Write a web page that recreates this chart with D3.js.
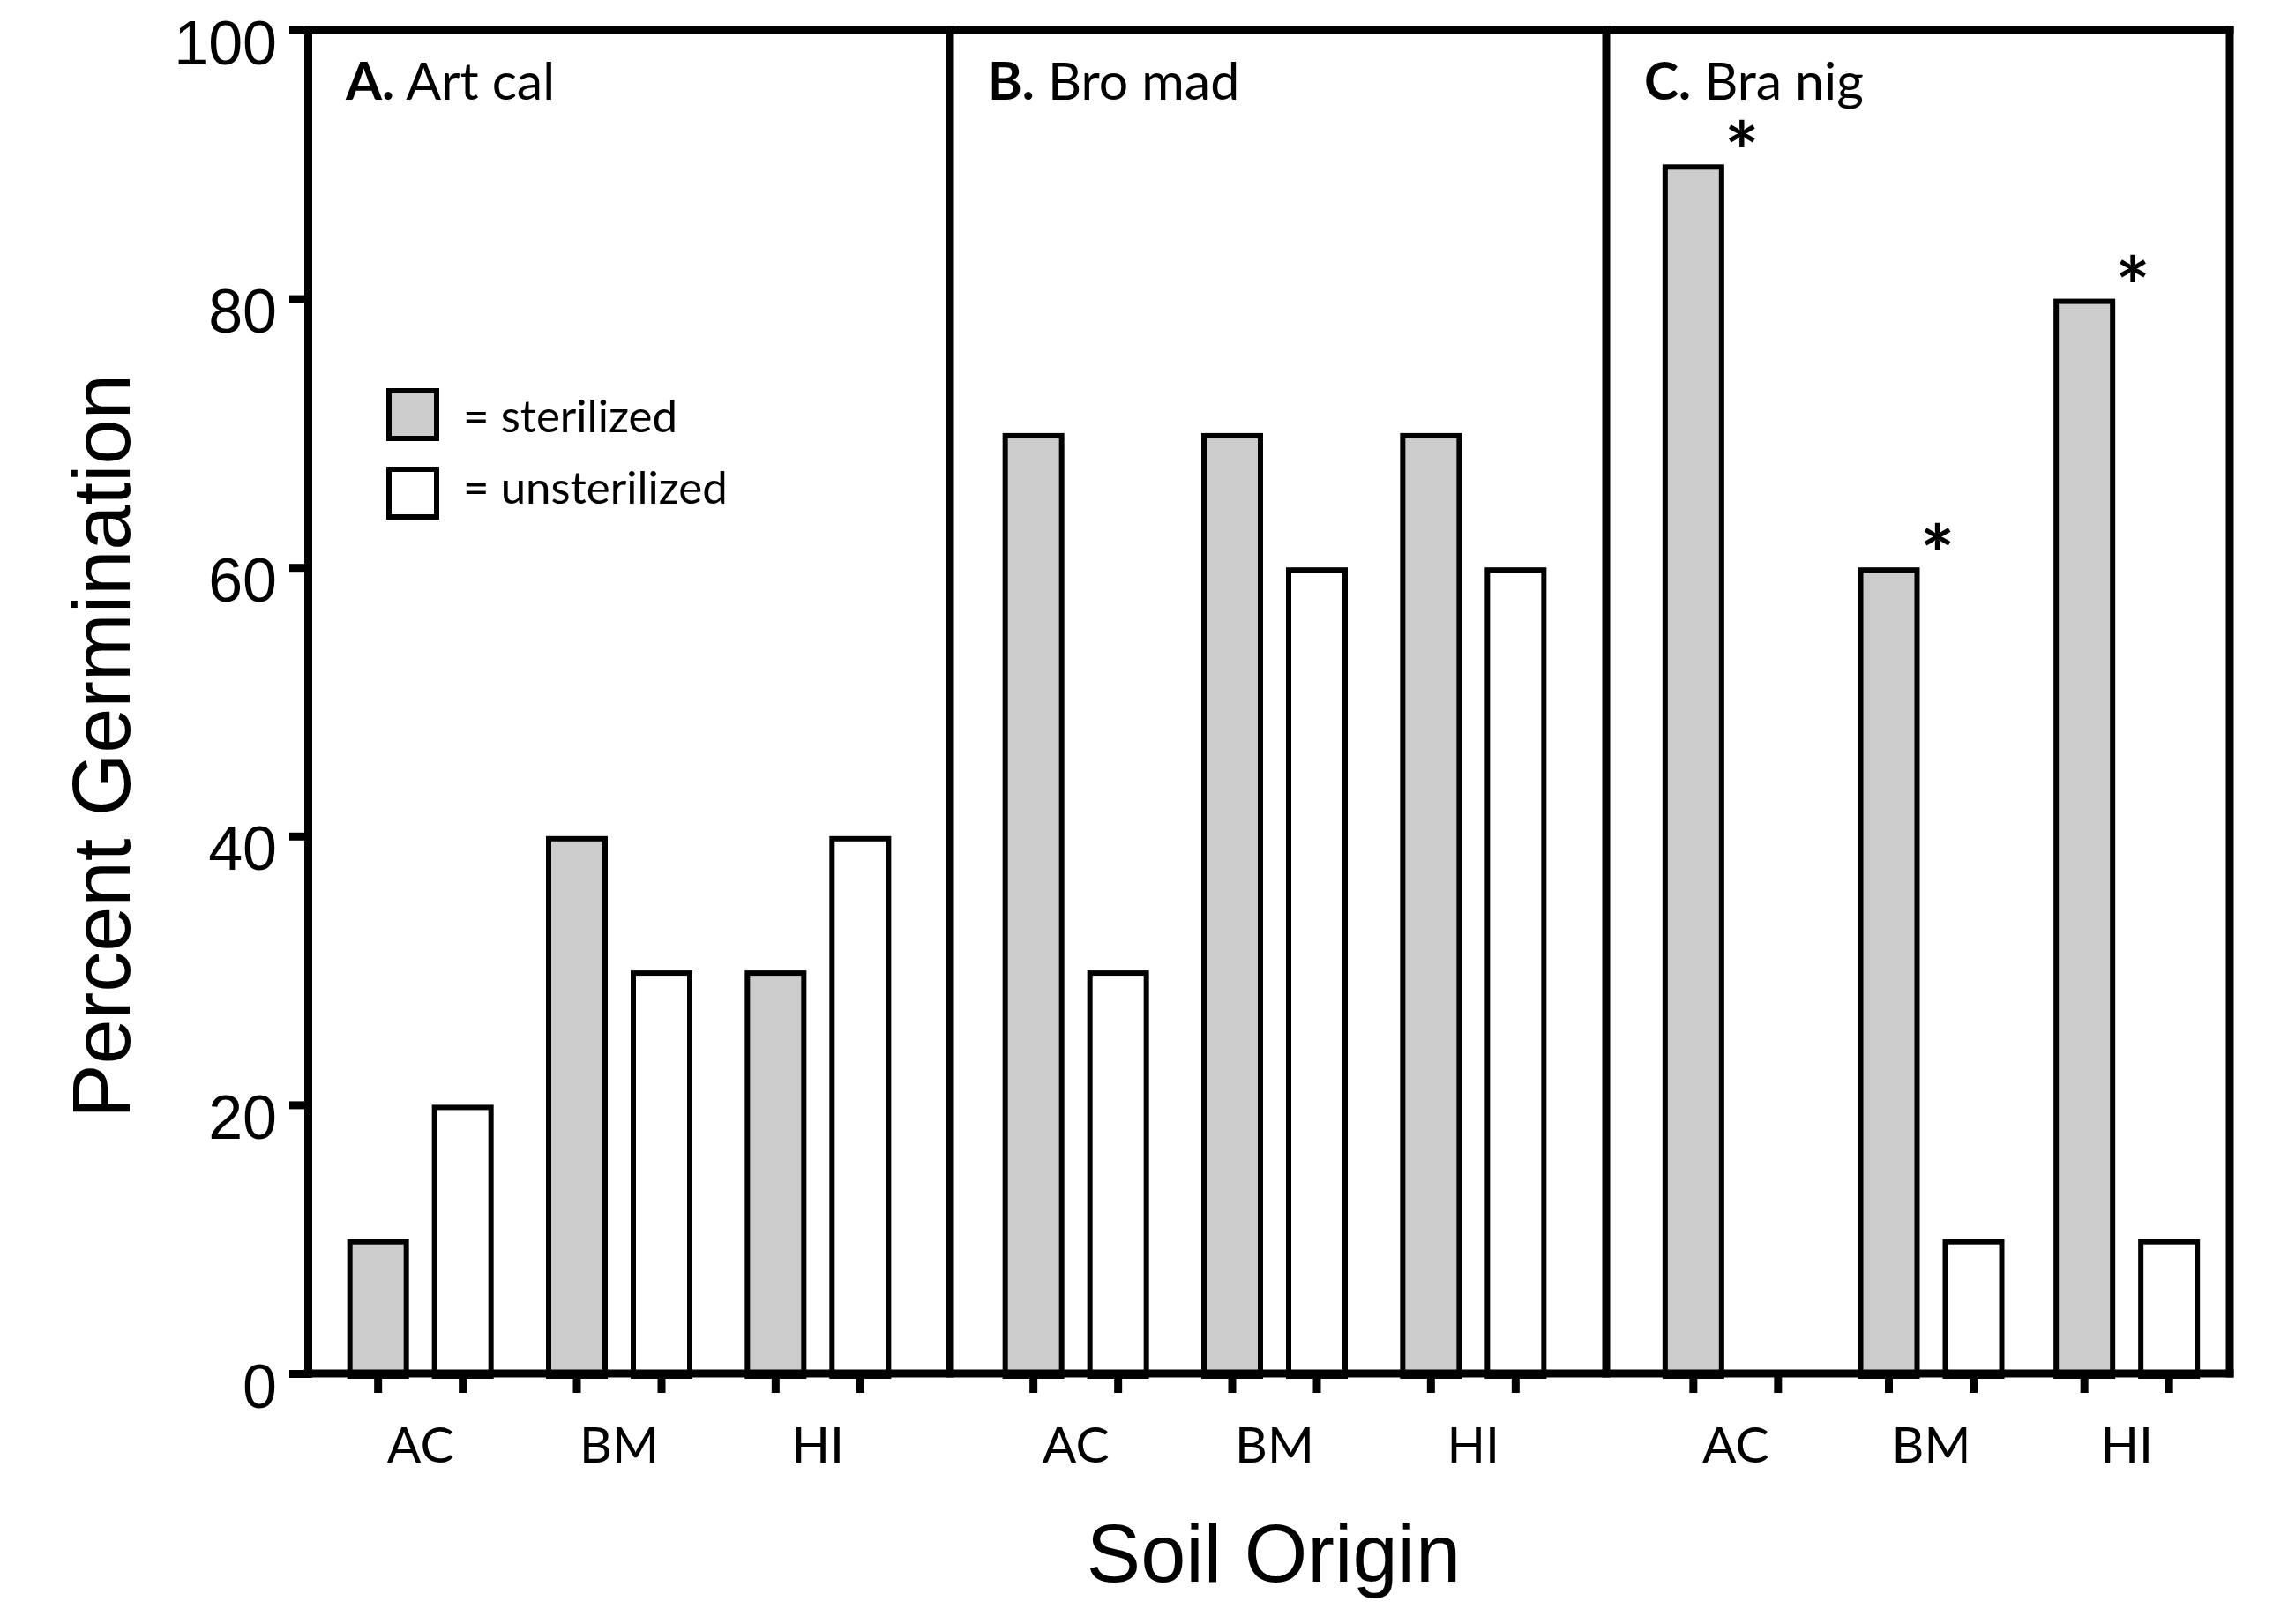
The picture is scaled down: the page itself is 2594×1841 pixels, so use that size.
<!DOCTYPE html>
<html>
<head>
<meta charset="utf-8">
<script src="https://cdn.jsdelivr.net/npm/d3@7"></script>
<style>
  body { margin: 0; background: #fff; }
  svg { display: block; }
</style>
</head>
<body>
<svg id="chart" width="2594" height="1841"></svg>
<script>
// data
var panelLetters = ["A.", "B.", "C."];
var species = ["Art cal", "Bro mad", "Bra nig"];
var soils = ["AC", "BM", "HI"];
var treatments = ["sterilized", "unsterilized"];
var sterilized = [[10, 40, 30], [70, 70, 70], [90, 60, 80]];
var unsterilized = [[20, 30, 40], [30, 60, 60], [0, 10, 10]];
var starred = [[false, false, false], [false, false, false], [true, true, true]];
var yTicks = [0, 20, 40, 60, 80, 100];

// layout (note: "top" is taken by window.top, so use plot* names)
var plotLeft = 349, plotRight = 2528, plotTop = 34, plotBottom = 1557;
var dividers = [1077, 1821];
var panelLeft = [plotLeft, dividers[0], dividers[1]];
var groupRange = [[364, 1040], [1107, 1783], [1857, 2522]];
var lineW = 9, barStroke = 6;
var armFont = "'Liberation Sans', Arial, sans-serif";
var calFont = "Lato, 'Open Sans', sans-serif";

var svg = d3.select("#chart");

var y = d3.scaleLinear().domain([0, 100]).range([plotBottom, plotTop]);

var inner = d3.scaleBand().domain(treatments)
    .range([-83, 83]).paddingInner(0.2708).paddingOuter(0);
var fillFor = d3.scaleOrdinal().domain(treatments).range(["#cccccc", "#ffffff"]);

var xGroup = groupRange.map(function (r) {
  return d3.scaleBand().domain(soils).range(r).padding(0);
});
function groupCenter(p, s) { return xGroup[p](s) + xGroup[p].bandwidth() / 2; }

// flatten for joins
var bars = [];
panelLetters.forEach(function (pl, p) {
  soils.forEach(function (s, i) {
    bars.push({p: p, soil: s, t: "sterilized", v: sterilized[p][i], star: starred[p][i]});
    bars.push({p: p, soil: s, t: "unsterilized", v: unsterilized[p][i], star: false});
  });
});
function barLeft(d) { return groupCenter(d.p, d.soil) + inner(d.t); }
function barMid(d) { return barLeft(d) + inner.bandwidth() / 2; }

// bars
svg.append("g").selectAll("rect")
  .data(bars.filter(function (d) { return d.v > 0; }))
  .enter().append("rect")
    .attr("x", function (d) { return barLeft(d) + barStroke / 2; })
    .attr("width", inner.bandwidth() - barStroke)
    .attr("y", function (d) { return y(d.v) + barStroke / 2; })
    .attr("height", function (d) { return y(0) - y(d.v); })
    .attr("fill", function (d) { return fillFor(d.t); })
    .attr("stroke", "#000")
    .attr("stroke-width", barStroke);

// asterisks
svg.append("g").selectAll("text")
  .data(bars.filter(function (d) { return d.star; }))
  .enter().append("text")
    .attr("x", function (d) { return barMid(d) + 55; })
    .attr("y", function (d) { return y(d.v) + 20; })
    .attr("text-anchor", "middle")
    .attr("font-family", calFont)
    .attr("font-weight", "bold")
    .attr("font-size", 92)
    .text("*");

// y axis
var yAxis = svg.append("g")
    .attr("transform", "translate(" + plotLeft + ",0)")
    .call(d3.axisLeft(y).tickValues(yTicks).tickSize(21).tickSizeOuter(0).tickPadding(14));
yAxis.select(".domain").attr("stroke-width", lineW).attr("stroke-linecap", "square");
yAxis.selectAll(".tick line").attr("stroke-width", lineW);
yAxis.selectAll(".tick text")
    .attr("dy", null).attr("y", 38)
    .attr("font-family", armFont).attr("font-size", 70).attr("fill", "#000");

// frame: top, bottom, right, dividers
var frame = svg.append("g").attr("stroke", "#000").attr("stroke-width", lineW)
    .attr("stroke-linecap", "square");
frame.append("line").attr("x1", plotLeft).attr("x2", plotRight).attr("y1", plotTop).attr("y2", plotTop);
frame.append("line").attr("x1", plotLeft).attr("x2", plotRight).attr("y1", plotBottom).attr("y2", plotBottom);
frame.append("line").attr("x1", plotRight).attr("x2", plotRight).attr("y1", plotTop).attr("y2", plotBottom);
frame.selectAll(".div").data(dividers).enter().append("line")
    .attr("x1", function (d) { return d; }).attr("x2", function (d) { return d; })
    .attr("y1", plotTop).attr("y2", plotBottom);

// x ticks under every bar
svg.append("g").selectAll("line")
  .data(bars).enter().append("line")
    .attr("x1", barMid).attr("x2", barMid)
    .attr("y1", plotBottom).attr("y2", plotBottom + 22)
    .attr("stroke", "#000").attr("stroke-width", lineW);

// soil labels
var labels = [];
panelLetters.forEach(function (pl, p) {
  soils.forEach(function (s) { labels.push({p: p, soil: s}); });
});
svg.append("g").selectAll("text")
  .data(labels).enter().append("text")
    .attr("x", function (d) { return groupCenter(d.p, d.soil); })
    .attr("y", 1658)
    .attr("text-anchor", "middle")
    .attr("font-family", calFont).attr("font-size", 57)
    .text(function (d) { return d.soil; });

// panel titles
var titles = svg.append("g").selectAll("text")
  .data(panelLetters).enter().append("text")
    .attr("x", function (d, i) { return panelLeft[i] + 43; })
    .attr("y", 113)
    .attr("font-family", calFont).attr("font-size", 59);
titles.append("tspan").attr("font-weight", "bold").text(function (d) { return d; });
titles.append("tspan").text(function (d, i) { return " " + species[i]; });

// legend
var legend = svg.append("g");
legend.selectAll("rect").data(treatments).enter().append("rect")
    .attr("x", 441).attr("y", function (d, i) { return 443 + i * 89; })
    .attr("width", 54).attr("height", 54)
    .attr("fill", function (d) { return fillFor(d); })
    .attr("stroke", "#000").attr("stroke-width", barStroke);
legend.selectAll("text").data(treatments).enter().append("text")
    .attr("x", 525).attr("y", function (d, i) { return 490 + i * 81; })
    .attr("font-family", calFont).attr("font-size", 51)
    .text(function (d) { return "= " + d; });

// axis titles
svg.append("text")
    .attr("transform", "translate(147,846) rotate(-90)")
    .attr("text-anchor", "middle")
    .attr("font-family", armFont).attr("font-size", 92)
    .text("Percent Germination");
svg.append("text")
    .attr("x", 1444).attr("y", 1793)
    .attr("text-anchor", "middle")
    .attr("font-family", armFont).attr("font-size", 92)
    .text("Soil Origin");
</script>
</body>
</html>
